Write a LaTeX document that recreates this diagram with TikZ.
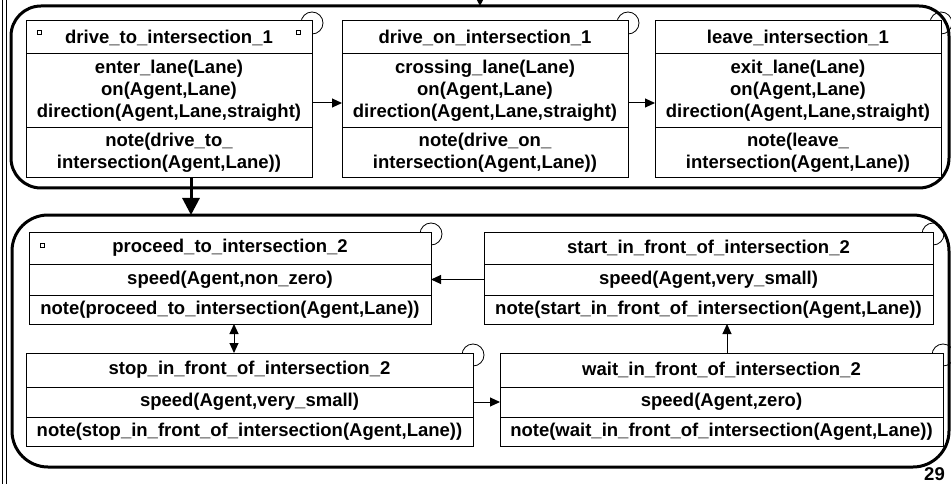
\documentclass[tikz,border=0pt]{standalone}
\usepackage{fontspec}
\setmainfont{Liberation Sans}
\usetikzlibrary{positioning,arrows.meta,backgrounds}
\tikzset{
	part/.style={draw, line width=1pt, fill=white, minimum width=286pt, inner sep=0pt, outer sep=0pt, align=center, font=\bfseries\fontsize{18.5}{22}\selectfont},
	super/.style={draw, line width=3pt, rounded corners=30pt, inner sep=0pt, outer sep=0pt},
	trans/.style={line width=1pt, -{Triangle[length=10pt,width=9pt]}},
	both/.style={line width=1pt, {Triangle[length=10pt,width=9pt]}-{Triangle[length=10pt,width=9pt]}},
	enter/.style={line width=3pt, -{Triangle[length=17pt,width=17pt]}},
}
\begin{document}
\begin{tikzpicture}[x=1pt, y=-1pt]
	\useasboundingbox (0,0) rectangle (951,484);
	\draw[line width=1pt] (2.5,0) -- (2.5,484);
	\draw[line width=1.5pt] (6.5,0) -- (6.5,484);

	% super states
	\node[super, minimum width=938pt, minimum height=182pt] (upper) at (480,97) {};
	\node[super, minimum width=937pt, minimum height=252pt, rounded corners=36pt] (lower) at (480.5,341) {};
	\coordinate (entry) at (480,-30);
	\draw[enter] (entry) -- (upper.north);

	% upper row
	\node[part, minimum height=33pt, anchor=north west] (dto-t) at (26,21) {drive\_to\_intersection\_1};
	\node[part, minimum height=74pt, below=0pt of dto-t] (dto-a) {enter\_lane(Lane)\\on(Agent,Lane)\\direction(Agent,Lane,straight)};
	\node[part, minimum height=50pt, below=0pt of dto-a] (dto-n) {note(drive\_to\_\\intersection(Agent,Lane))};

	\node[part, minimum height=33pt, anchor=north west] (don-t) at (342,21) {drive\_on\_intersection\_1};
	\node[part, minimum height=74pt, below=0pt of don-t] (don-a) {crossing\_lane(Lane)\\on(Agent,Lane)\\direction(Agent,Lane,straight)};
	\node[part, minimum height=50pt, below=0pt of don-a] (don-n) {note(drive\_on\_\\intersection(Agent,Lane))};

	\node[part, minimum height=33pt, anchor=north west] (lve-t) at (655,21) {leave\_intersection\_1};
	\node[part, minimum height=74pt, below=0pt of lve-t] (lve-a) {exit\_lane(Lane)\\on(Agent,Lane)\\direction(Agent,Lane,straight)};
	\node[part, minimum height=50pt, below=0pt of lve-a] (lve-n) {note(leave\_\\intersection(Agent,Lane))};

	% lower block
	\node[part, minimum width=402pt, minimum height=32pt, anchor=north west] (pro-t) at (29,232) {proceed\_to\_intersection\_2};
	\node[part, minimum width=402pt, minimum height=31pt, below=0pt of pro-t] (pro-a) {speed(Agent,non\_zero)};
	\node[part, minimum width=402pt, minimum height=29pt, below=0pt of pro-a] (pro-n) {note(proceed\_to\_intersection(Agent,Lane))};

	\node[part, minimum width=449pt, minimum height=32pt, anchor=north west] (sta-t) at (484,232) {start\_in\_front\_of\_intersection\_2};
	\node[part, minimum width=449pt, minimum height=31pt, below=0pt of sta-t] (sta-a) {speed(Agent,very\_small)};
	\node[part, minimum width=449pt, minimum height=29pt, below=0pt of sta-a] (sta-n) {note(start\_in\_front\_of\_intersection(Agent,Lane))};

	\node[part, minimum width=447pt, minimum height=34pt, anchor=north west] (stp-t) at (26,353) {stop\_in\_front\_of\_intersection\_2};
	\node[part, minimum width=447pt, minimum height=30pt, below=0pt of stp-t] (stp-a) {speed(Agent,very\_small)};
	\node[part, minimum width=447pt, minimum height=29pt, below=0pt of stp-a] (stp-n) {note(stop\_in\_front\_of\_intersection(Agent,Lane))};

	\node[part, minimum width=443pt, minimum height=34pt, anchor=north west] (wai-t) at (500,353) {wait\_in\_front\_of\_intersection\_2};
	\node[part, minimum width=443pt, minimum height=30pt, below=0pt of wai-t] (wai-a) {speed(Agent,zero)};
	\node[part, minimum width=443pt, minimum height=29pt, below=0pt of wai-a] (wai-n) {note(wait\_in\_front\_of\_intersection(Agent,Lane))};

	% history marks
	\begin{scope}[on background layer]
		\foreach \s in {dto-t,don-t,lve-t,pro-t,sta-t,stp-t,wai-t}
			\draw[line width=0.8pt] (\s.north east) ++(0,2) circle (11pt);
	\end{scope}
	\draw[line width=0.6pt] ([shift={(11,9)}]dto-t.north west) rectangle ++(4,4);
	\draw[line width=0.6pt] ([shift={(-16,9)}]dto-t.north east) rectangle ++(4,4);
	\draw[line width=0.6pt] ([shift={(11,11)}]pro-t.north west) rectangle ++(4,4);

	% transitions
	\draw[trans] ([shift={(0,12)}]dto-a.east) -- ([shift={(0,12)}]don-a.west);
	\draw[trans] ([shift={(0,12)}]don-a.east) -- ([shift={(0,12)}]lve-a.west);
	\coordinate (drop) at ([shift={(22,0)}]dto-n.south);
	\draw[enter] (drop) -- (drop |- lower.north);
	\draw[trans] (sta-a.west) -- (pro-a.east);
	\coordinate (pt) at ([shift={(4,0)}]pro-n.south);
	\draw[both] (pt) -- (pt |- stp-t.north);
	\draw[trans] (stp-a.east) -- (wai-a.west);
	\coordinate (ws) at ([shift={(5.5,0)}]wai-t.north);
	\draw[trans] (ws) -- (ws |- sta-n.south);

	\node[font=\bfseries\fontsize{18.5}{22}\selectfont, anchor=base east, inner sep=1pt] (page) at (946,480) {29};
\end{tikzpicture}
\end{document}
